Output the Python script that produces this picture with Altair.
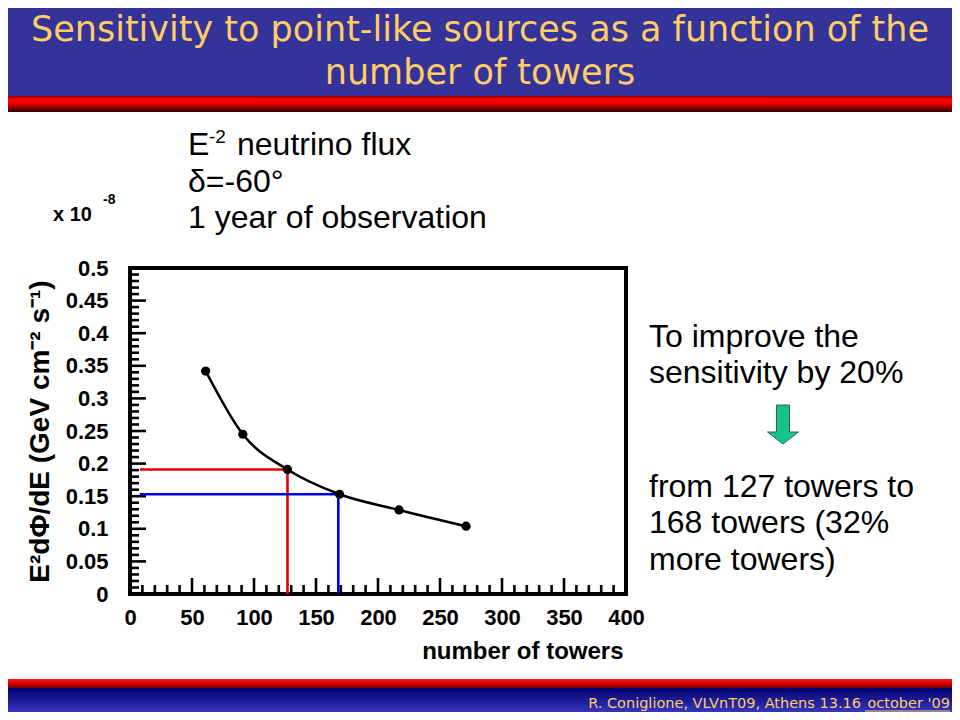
import altair as alt
import pandas as pd

# ---------------- data ----------------
towers = [61, 91, 127, 169, 217, 271]
sensitivity = [0.342, 0.245, 0.191, 0.153, 0.129, 0.104]

guide_towers = [127, 168]
guide_sens = [0.191, 0.153]
guide_colors = ["#E00000", "#0000DD"]
guide_start = 8

x_labels = [0, 50, 100, 150, 200, 250, 300, 350, 400]
y_labels = [0, 0.05, 0.1, 0.15, 0.2, 0.25, 0.3, 0.35, 0.4, 0.45, 0.5]
x_minor = [v for v in range(10, 400, 10) if v % 50]
y_minor = [round(v * 0.01, 2) for v in range(1, 50) if v % 5]

title_lines = ["Sensitivity to point-like sources as a function of the", "number of towers"]
info_lines = ["neutrino flux", "\u03b4=-60\u00b0", "1 year of observation"]
note_lines = ["To improve the", "sensitivity by 20%", "from 127 towers to", "168 towers (32%", "more towers)"]
footer_text = "R. Coniglione, VLVnT09, Athens 13.16"
footer_link = "october '09"
x_title = "number of towers"
y_title = "E\u00b2d\u03a6/dE (GeV cm\u207b\u00b2 s\u207b\u00b9)"

# ---------------- layout ----------------
W, H = 496, 326
PAD_L, PAD_T = 122, 260
TOT_W, TOT_H = 944, 704
FONT = "Liberation Sans"
TFONT = "DejaVu Sans"
one = pd.DataFrame({"k": [0]})


def px(X):  # page x -> plot x
    return X - 130


def py(Y):  # page y -> plot y
    return Y - 268


def rect(x, x2, y, y2, color):
    return alt.Chart(one).mark_rect(color=color).encode(
        x=alt.value(x), x2=alt.value(x2), y=alt.value(y), y2=alt.value(y2))


def text(t, x, y, size, color="black", weight="normal", align="left", font=FONT, baseline="alphabetic"):
    return alt.Chart(pd.DataFrame({"t": [t]})).mark_text(
        align=align, baseline=baseline, font=font, fontSize=size, fontWeight=weight, color=color
    ).encode(x=alt.value(x), y=alt.value(y), text="t:N")


def grad(stops):
    return alt.LinearGradient(
        gradient="linear", x1=0, x2=0, y1=0, y2=1,
        stops=[alt.GradientStop(offset=o, color=c) for o, c in stops])


xs = alt.Scale(domain=[0, 400], nice=False)
ys = alt.Scale(domain=[0, 0.5], nice=False)
xa = alt.Axis(
    values=x_labels, format="d", grid=False, domain=False, ticks=False, tickSize=0,
    labelPadding=13, labelFont=FONT, labelFontSize=22, labelFontWeight="bold", labelColor="black",
    labelFlush=False, labelOverlap=False, labelBound=False,
    title=x_title, titleFont=FONT, titleFontSize=24, titleFontWeight="bold", titleColor="black",
    titleX=W - 3, titleY=64, titleAlign="right", titleBaseline="alphabetic", titleAngle=0)
ya = alt.Axis(
    values=y_labels, format="~g", grid=False, domain=False, ticks=False, tickSize=0,
    labelPadding=22, labelFont=FONT, labelFontSize=22, labelFontWeight="bold", labelColor="black",
    labelOverlap=False, labelBound=False, labelFlush=False,
    title=y_title, titleFont=FONT, titleFontSize=28, titleFontWeight="bold", titleColor="black",
    titleX=-90, titleY=H / 2, titleAngle=270, titleAlign="center", titleBaseline="middle")

layers = []
# slide decorations
layers.append(rect(-PAD_L, TOT_W - PAD_L, -PAD_T, py(96), "#333399"))
layers.append(rect(-PAD_L, TOT_W - PAD_L, py(96), py(112),
                   grad([(0, "#8B0000"), (0.2, "#FF0000"), (0.45, "#F00000"), (1, "#2A0000")])))
layers.append(rect(-PAD_L, TOT_W - PAD_L, py(679), py(688),
                   grad([(0, "#FF2020"), (0.4, "#E80000"), (1, "#700000")])))
layers.append(rect(-PAD_L, TOT_W - PAD_L, py(688), TOT_H - PAD_T,
                   grad([(0, "#000070"), (1, "#3636BC")])))

layers.append(text(title_lines[0], px(480), py(41), 35, "#FFCC66", align="center", font=TFONT))
layers.append(text(title_lines[1], px(480), py(84), 35, "#FFCC66", align="center", font=TFONT))
layers.append(text(footer_text, px(861), py(708), 14.5, "#FFCC66", align="right", font=TFONT))
layers.append(text(footer_link, px(950), py(708), 14.5, "#FFCC66", align="right", font=TFONT))
layers.append(alt.Chart(one).mark_rule(color="#FFCC66", strokeWidth=1).encode(
    x=alt.value(px(865)), x2=alt.value(px(950)), y=alt.value(py(711))))

# info text
layers.append(text("E", px(188), py(155), 32))
layers.append(text("-2", px(209), py(143), 19))
layers.append(text(info_lines[0], px(237), py(155), 32))
layers.append(text(info_lines[1], px(188), py(192), 32))
layers.append(text(info_lines[2], px(188), py(228), 32))
layers.append(text("x 10", px(53), py(221), 20, weight="bold"))
layers.append(text("-8", px(103), py(204), 14, weight="bold"))

# right note
for t, Y in zip(note_lines, [347, 383, 497, 533, 570]):
    layers.append(text(t, px(649), py(Y), 32))

arrow = "M -0.333 -1 L 0.333 -1 L 0.333 0.385 L 0.795 0.385 L 0 1 L -0.795 0.385 L -0.333 0.385 Z"
layers.append(alt.Chart(one).mark_point(
    shape=arrow, size=1521, filled=True, fill="#17C48E", stroke="#3A5F55", strokeWidth=1, opacity=1
).encode(x=alt.value(px(783)), y=alt.value(py(424.5))))

# inward ticks
ymaj = pd.DataFrame({"v": y_labels})
ymin = pd.DataFrame({"v": y_minor})
xmaj = pd.DataFrame({"v": x_labels})
xmin = pd.DataFrame({"v": x_minor})
layers.append(alt.Chart(ymaj).mark_rule(color="black", strokeWidth=2.6).encode(
    y=alt.Y("v:Q", scale=ys, axis=ya), x=alt.value(0), x2=alt.value(16)))
layers.append(alt.Chart(ymin).mark_rule(color="black", strokeWidth=2.6).encode(
    y=alt.Y("v:Q", scale=ys, axis=ya), x=alt.value(0), x2=alt.value(9)))
layers.append(alt.Chart(xmaj).mark_rule(color="black", strokeWidth=2.6).encode(
    x=alt.X("v:Q", scale=xs, axis=xa), y=alt.value(H), y2=alt.value(H - 16)))
layers.append(alt.Chart(xmin).mark_rule(color="black", strokeWidth=2.6).encode(
    x=alt.X("v:Q", scale=xs, axis=xa), y=alt.value(H), y2=alt.value(H - 9)))

# guide lines
seg = pd.DataFrame({
    "x": [guide_start, guide_towers[0], guide_start, guide_towers[1]],
    "x2": [guide_towers[0], guide_towers[0], guide_towers[1], guide_towers[1]],
    "y": [guide_sens[0], guide_sens[0], guide_sens[1], guide_sens[1]],
    "y2": [guide_sens[0], 0, guide_sens[1], 0],
    "c": [guide_colors[0], guide_colors[0], guide_colors[1], guide_colors[1]],
})
layers.append(alt.Chart(seg).mark_rule(strokeWidth=2.6).encode(
    x=alt.X("x:Q", scale=xs, axis=xa), x2="x2:Q",
    y=alt.Y("y:Q", scale=ys, axis=ya), y2="y2:Q",
    color=alt.Color("c:N", scale=None)))

curve = pd.DataFrame({"towers": towers, "sens": sensitivity})
layers.append(alt.Chart(curve).mark_line(interpolate="monotone", color="black", strokeWidth=2.6).encode(
    x=alt.X("towers:Q", scale=xs, axis=xa),
    y=alt.Y("sens:Q", scale=ys, axis=ya)))
layers.append(alt.Chart(curve).mark_circle(color="black", size=85, opacity=1).encode(
    x=alt.X("towers:Q", scale=xs, axis=xa), y=alt.Y("sens:Q", scale=ys, axis=ya)))

chart = alt.layer(*layers).properties(
    width=W, height=H,
    padding={"left": PAD_L, "top": PAD_T, "right": TOT_W - PAD_L - W, "bottom": TOT_H - PAD_T - H},
    autosize=alt.AutoSizeParams(type="none"),
    background="white",
).configure_view(stroke="black", strokeWidth=4)

chart.save("out.html", embed_options={"renderer": "svg", "actions": False})
